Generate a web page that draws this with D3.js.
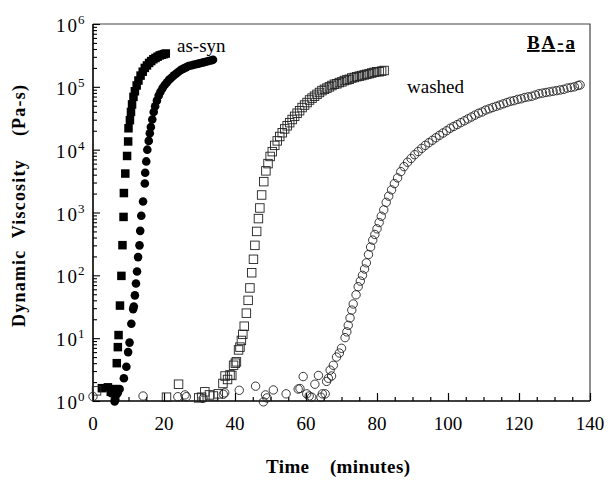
<!DOCTYPE html>
<html>
<head>
<meta charset="utf-8">
<script src="https://cdn.jsdelivr.net/npm/d3@7"></script>
<style>
  html, body { margin: 0; padding: 0; background: #fff; }
  svg { display: block; }
  svg text { font-family: "Liberation Serif", "Times New Roman", "DejaVu Serif", serif; }
</style>
</head>
<body>
<svg id="root"></svg>
<script>
// [time (min), dynamic viscosity (Pa-s)]
const asSynSquares = [
  [2.5, 1.6], [4.2, 1.65], [5.0, 1.4], [5.6, 1.35], [6.0, 1.55], [6.7, 4.0], [7.0, 7.2],
  [7.2, 11.2], [7.6, 33], [8.0, 98], [8.3, 302], [8.6, 850], [8.7, 2040], [9.1, 4170],
  [9.6, 7940], [9.9, 13500], [10.0, 21900], [10.4, 29500], [10.7, 39800], [11.0, 52500],
  [11.4, 69200], [11.8, 85100], [12.3, 105000], [12.8, 126000], [13.4, 151000],
  [14.0, 174000], [14.6, 200000], [15.2, 219000], [15.8, 240000], [16.4, 257000],
  [17.0, 275000], [17.6, 288000], [18.2, 302000], [18.8, 316000], [19.4, 324000],
  [20.0, 331000], [20.5, 339000]
];

const asSynCircles = [
  [6.1, 0.98], [6.3, 1.05], [6.6, 1.26], [7.0, 1.35], [7.5, 1.55], [8.7, 2.3], [9.4, 3.5],
  [9.9, 6.0], [10.3, 8.5], [10.8, 17], [11.3, 29], [11.5, 32], [11.8, 48], [12.1, 74],
  [12.4, 115], [12.7, 195], [13.1, 300], [13.3, 510], [13.6, 890], [14.1, 1500],
  [14.6, 2900], [14.7, 4300], [15.0, 6500], [15.3, 10000], [15.7, 13800], [16.0, 18200],
  [16.3, 22900], [16.7, 30200], [17.1, 39800], [17.5, 49000], [18.0, 60300], [18.5, 72400],
  [19.0, 83200], [19.6, 95500], [20.2, 107000], [20.8, 117000], [21.4, 129000],
  [22.0, 138000], [22.7, 151000], [23.4, 162000], [24.1, 174000], [24.8, 186000],
  [25.5, 195000], [26.2, 204000], [26.9, 214000], [27.6, 219000], [28.3, 224000],
  [29.0, 229000], [29.7, 234000], [30.4, 240000], [31.1, 245000], [31.8, 251000],
  [32.5, 257000], [33.2, 263000], [33.8, 269000]
];

const washedSquares = [
  [1.0, 1.45], [20.7, 1.15], [24.1, 1.85], [29.8, 1.12], [30.6, 1.15], [31.5, 1.4],
  [32.8, 1.25], [33.9, 1.2], [35.3, 1.3], [36.6, 1.9], [37.2, 2.5], [37.9, 2.2], [38.6, 2.6],
  [39.1, 2.55], [39.6, 3.7], [40.1, 4.0], [40.4, 4.2], [41.0, 6.5], [41.4, 7.2], [41.8, 9.2],
  [42.2, 11.5], [42.6, 15.5], [43.2, 25], [43.7, 40], [44.2, 63], [44.7, 110], [45.2, 180],
  [45.6, 300], [46.1, 500], [46.6, 800], [47.0, 1180], [47.5, 1900], [48.1, 3100],
  [48.7, 4600], [49.3, 6000], [49.9, 7800], [50.5, 9300], [51.2, 11700], [51.9, 13800],
  [52.6, 16200], [53.3, 18600], [54.0, 21400], [54.7, 24000], [55.4, 26900], [56.1, 30200],
  [56.8, 33900], [57.5, 38000], [58.2, 41700], [58.9, 46800], [59.6, 51300], [60.3, 56200],
  [61.0, 61700], [61.7, 66100], [62.4, 70800], [63.1, 75900], [63.8, 81300], [64.5, 87100],
  [65.2, 91200], [65.9, 95500], [66.6, 100000], [67.3, 105000], [68.0, 110000],
  [68.7, 112000], [69.4, 117000], [70.1, 120000], [70.8, 126000], [71.5, 129000],
  [72.2, 132000], [72.9, 138000], [73.6, 141000], [74.3, 145000], [75.0, 148000],
  [75.7, 151000], [76.4, 155000], [77.1, 158000], [77.8, 162000], [78.5, 166000],
  [79.2, 170000], [79.9, 174000], [80.6, 174000], [81.3, 178000], [82.0, 182000]
];

const washedCircles = [
  [0.0, 1.18], [14.1, 1.2], [23.9, 1.17], [25.9, 1.25], [26.3, 1.17], [31.0, 1.1],
  [36.7, 1.28], [37.1, 1.35], [41.2, 1.48], [45.8, 1.72], [48.0, 0.97], [48.6, 1.25],
  [49.0, 1.12], [50.8, 1.5], [54.4, 1.3], [57.8, 1.55], [58.3, 1.58], [59.2, 2.45],
  [60.2, 1.3], [60.9, 1.2], [61.6, 1.15], [62.5, 1.85], [63.5, 2.55], [64.2, 1.15],
  [64.6, 1.3], [65.4, 1.3], [65.8, 2.05], [66.3, 2.3], [66.8, 3.1], [67.2, 2.5], [67.7, 3.7],
  [68.6, 5.0], [69.4, 5.8], [70.0, 6.9], [71.0, 10.2], [71.5, 12.6], [71.9, 16], [72.4, 21],
  [72.9, 28], [73.3, 35], [74.1, 49], [74.7, 66], [75.3, 81], [75.9, 100], [76.5, 126],
  [77.0, 158], [77.6, 214], [78.2, 282], [78.8, 363], [79.4, 447], [80.0, 550], [80.6, 692],
  [81.2, 871], [81.9, 1100], [82.6, 1450], [83.3, 1820], [84.1, 2290], [84.9, 2880],
  [85.8, 3550], [86.7, 4470], [87.6, 5370], [88.6, 6310], [89.6, 7240], [90.6, 8320],
  [91.6, 9330], [92.6, 10500], [93.6, 11700], [94.6, 12900], [95.6, 14100], [96.6, 15500],
  [97.6, 16900], [98.6, 18400], [99.6, 20000], [100.6, 21900], [101.6, 23400],
  [102.6, 25100], [103.6, 26900], [104.6, 28800], [105.6, 30900], [106.6, 33100],
  [107.6, 35500], [108.6, 38000], [109.6, 39800], [110.6, 42700], [111.6, 44700],
  [112.6, 46800], [113.6, 49000], [114.6, 51300], [115.6, 53700], [116.6, 56200],
  [117.6, 58900], [118.6, 60300], [119.6, 63100], [120.6, 64600], [121.6, 67600],
  [122.6, 69200], [123.6, 70800], [124.6, 74100], [125.6, 77600], [126.6, 79400],
  [127.6, 81300], [128.6, 83200], [129.6, 85100], [130.6, 87100], [131.6, 89100],
  [132.6, 91200], [133.6, 95500], [134.6, 97700], [135.6, 100000], [136.6, 105000],
  [137.2, 107000]
];

const xTicks = [0, 20, 40, 60, 80, 100, 120, 140];
const yExponents = [0, 1, 2, 3, 4, 5, 6];

class ViscosityChart {
  width = 608;
  height = 481;
  plot = { left: 93, right: 590, top: 24, bottom: 401 };
  svg = null;

  init() {
    this.svg = d3.select("#root").attr("width", this.width).attr("height", this.height);
    this.x = d3.scaleLinear().domain([0, 140]).range([this.plot.left, this.plot.right]);
    this.y = d3.scaleLog().domain([1, 1e6]).range([this.plot.bottom, this.plot.top]);
    this.drawFrame();
    this.drawSeries();
    this.drawLabels();
  }

  drawFrame = () => {
    const p = this.plot;
    // top and right edges, thin
    this.svg.append("path")
      .attr("d", `M${p.left},${p.top}H${p.right}V${p.bottom}`)
      .attr("fill", "none").attr("stroke", "#444").attr("stroke-width", 1.2);

    // x axis: ticks point up into the plot
    const xMinor = d3.range(0, 141, 5).filter((d) => d % 20 !== 0);
    const xAxis = this.svg.append("g").attr("transform", `translate(0,${p.bottom})`);
    xAxis.call(d3.axisTop(this.x).tickValues(xTicks).tickSize(8).tickFormat(""));
    xAxis.append("g").call(d3.axisTop(this.x).tickValues(xMinor).tickSize(4).tickFormat(""));
    xAxis.selectAll(".domain").remove();
    xAxis.selectAll("line").attr("stroke", "#000").attr("stroke-width", 1.2);

    this.svg.append("g")
      .selectAll("text")
      .data(xTicks)
      .join("text")
      .attr("x", (d) => this.x(d))
      .attr("y", 430)
      .attr("text-anchor", "middle")
      .attr("font-size", 19)
      .text((d) => d);

    // y axis: log ticks point right into the plot
    const majors = yExponents.map((e) => Math.pow(10, e));
    const minors = [];
    yExponents.slice(0, -1).forEach((e) => {
      for (let m = 2; m <= 9; m++) minors.push(m * Math.pow(10, e));
    });
    const yAxis = this.svg.append("g").attr("transform", `translate(${p.left},0)`);
    yAxis.call(d3.axisRight(this.y).tickValues(majors).tickSize(7).tickFormat(""));
    yAxis.append("g").call(d3.axisRight(this.y).tickValues(minors).tickSize(4).tickFormat(""));
    yAxis.selectAll(".domain").remove();
    yAxis.selectAll("line").attr("stroke", "#000").attr("stroke-width", 1.1);

    const yLab = this.svg.append("g")
      .selectAll("g")
      .data(yExponents)
      .join("g")
      .attr("transform", (d) => `translate(0,${this.y(Math.pow(10, d))})`);
    yLab.append("text")
      .attr("x", 77).attr("y", 8)
      .attr("text-anchor", "end")
      .attr("font-size", 19)
      .attr("textLength", 21)
      .text("10");
    yLab.append("text")
      .attr("x", 78).attr("y", 0)
      .attr("font-size", 13)
      .text((d) => d);

    // main axis lines
    this.svg.append("path")
      .attr("d", `M${p.left},${p.top}V${p.bottom}H${p.right}`)
      .attr("fill", "none").attr("stroke", "#000").attr("stroke-width", 1.6);
  };

  drawSeries = () => {
    const s = 8.5;
    const g = this.svg.append("g");

    g.selectAll(".sq-filled")
      .data(asSynSquares)
      .join("rect")
      .attr("class", "sq-filled")
      .attr("x", (d) => this.x(d[0]) - s / 2)
      .attr("y", (d) => this.y(d[1]) - s / 2)
      .attr("width", s).attr("height", s)
      .attr("fill", "#000");

    g.selectAll(".c-filled")
      .data(asSynCircles)
      .join("circle")
      .attr("class", "c-filled")
      .attr("cx", (d) => this.x(d[0]))
      .attr("cy", (d) => this.y(d[1]))
      .attr("r", 4.3)
      .attr("fill", "#000");

    g.selectAll(".sq-open")
      .data(washedSquares)
      .join("rect")
      .attr("class", "sq-open")
      .attr("x", (d) => this.x(d[0]) - s / 2)
      .attr("y", (d) => this.y(d[1]) - s / 2)
      .attr("width", s).attr("height", s)
      .attr("fill", "none")
      .attr("stroke", "#222").attr("stroke-width", 0.9);

    g.selectAll(".c-open")
      .data(washedCircles)
      .join("circle")
      .attr("class", "c-open")
      .attr("cx", (d) => this.x(d[0]))
      .attr("cy", (d) => this.y(d[1]))
      .attr("r", 4.2)
      .attr("fill", "none")
      .attr("stroke", "#222").attr("stroke-width", 0.9);
  };

  drawLabels = () => {
    this.svg.append("text")
      .attr("x", 177).attr("y", 52)
      .attr("font-size", 19)
      .text("as-syn");

    this.svg.append("text")
      .attr("x", 407).attr("y", 93)
      .attr("font-size", 19)
      .text("washed");

    this.svg.append("text")
      .attr("x", 527).attr("y", 49)
      .attr("font-size", 19)
      .attr("font-weight", "bold")
      .attr("textLength", 48)
      .attr("text-decoration", "underline")
      .text("BA-a");

    this.svg.append("text")
      .attr("x", 338).attr("y", 473)
      .attr("text-anchor", "middle")
      .attr("font-size", 19)
      .attr("font-weight", "bold")
      .attr("textLength", 144)
      .attr("xml:space", "preserve")
      .text("Time    (minutes)");

    this.svg.append("text")
      .attr("transform", "translate(25,206) rotate(-90)")
      .attr("text-anchor", "middle")
      .attr("font-size", 18)
      .attr("font-weight", "bold")
      .attr("textLength", 242)
      .attr("xml:space", "preserve")
      .text("Dynamic  Viscosity    (Pa-s)");
  };
}

function main() {
  const chart = new ViscosityChart();
  chart.init();
}

main();
</script>
</body>
</html>
